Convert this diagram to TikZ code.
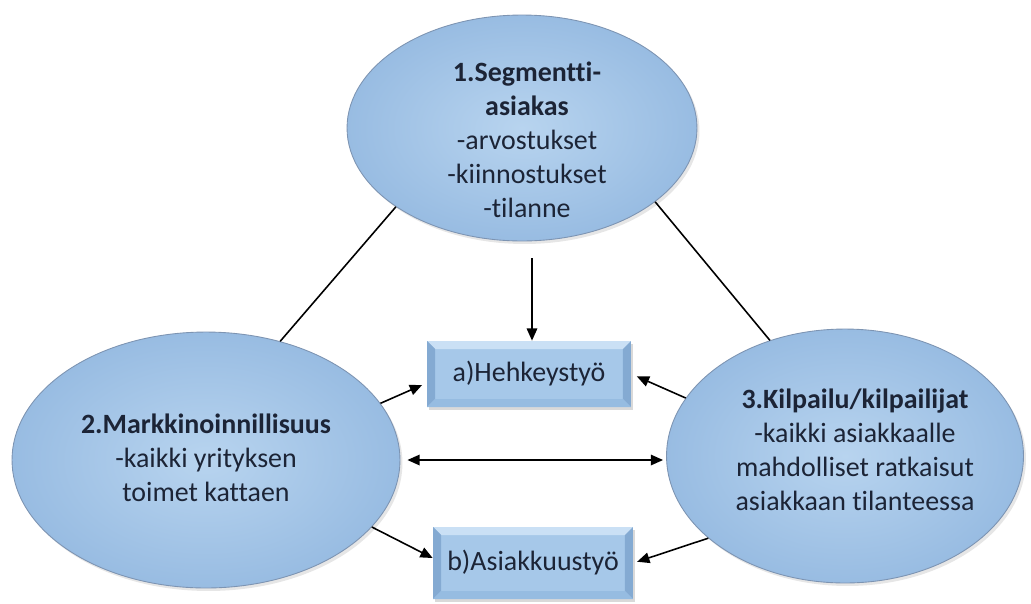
\documentclass[tikz,border=0pt]{standalone}
\usepackage{fontspec}
\setmainfont{Carlito}[Ligatures={NoCommon,TeX}]
\usetikzlibrary{shapes.geometric,arrows.meta,shadows}

\definecolor{ellin}{RGB}{184,212,239}
\definecolor{ellout}{RGB}{152,188,226}
\definecolor{ellrim}{RGB}{125,148,178}
\definecolor{boxface}{RGB}{166,200,233}
\definecolor{boxtop}{RGB}{202,224,245}
\definecolor{boxside}{RGB}{132,170,210}
\definecolor{boxlow}{RGB}{150,188,225}
\definecolor{txtdark}{RGB}{28,36,54}

\tikzset{
  oval/.style={ellipse, inner sep=0pt, draw=ellrim, line width=0.5pt,
    inner color=ellin, outer color=ellout,
    drop shadow={opacity=0.2, shadow xshift=0.05cm, shadow yshift=-0.06cm}},
  ovaltext/.style={align=center, text=txtdark,
    font=\fontsize{15.9}{19.3}\selectfont},
  bevelbox/.style={fill=boxface, inner sep=0pt, text=txtdark,
    font=\fontsize{15.9}{19.3}\selectfont,
    drop shadow={opacity=0.3, shadow xshift=0.04cm, shadow yshift=-0.06cm},
    path picture={
      \fill[boxtop] (path picture bounding box.north west) -- (path picture bounding box.north east)
        -- ([shift={(-8,8)}]path picture bounding box.north east) -- ([shift={(8,8)}]path picture bounding box.north west) -- cycle;
      \fill[boxside] (path picture bounding box.north west) -- (path picture bounding box.south west)
        -- ([shift={(8,-8)}]path picture bounding box.south west) -- ([shift={(8,8)}]path picture bounding box.north west) -- cycle;
      \fill[boxside] (path picture bounding box.north east) -- (path picture bounding box.south east)
        -- ([shift={(-8,-8)}]path picture bounding box.south east) -- ([shift={(-8,8)}]path picture bounding box.north east) -- cycle;
      \fill[boxlow] (path picture bounding box.south west) -- (path picture bounding box.south east)
        -- ([shift={(-8,-8)}]path picture bounding box.south east) -- ([shift={(8,-8)}]path picture bounding box.south west) -- cycle;
    }},
  arr/.style={-{Triangle[length=7pt,width=6pt]}, line width=0.9pt},
  dblarr/.style={{Triangle[length=7pt,width=6pt]}-{Triangle[length=7pt,width=6pt]}, line width=0.9pt},
  link/.style={line width=0.9pt}
}

\begin{document}
\begin{tikzpicture}[x=0.02cm,y=-0.02cm]
  \useasboundingbox (0,0) rectangle (1031,603);

  % the three ovals
  \node[oval, minimum width=7cm, minimum height=4.52cm] (seg) at (522,128) {};
  \node[oval, minimum width=7.76cm, minimum height=5.12cm] (mark) at (206,460) {};
  \node[oval, minimum width=7.14cm, minimum height=5.08cm] (kil) at (845,456) {};

  \node[ovaltext] (segtext) at (527,140) {\textbf{1.Segmentti-}\\\textbf{asiakas}\\-arvostukset\\-kiinnostukset\\-tilanne};
  \node[ovaltext] (marktext) at (206,458) {\textbf{2.Markkinoinnillisuus}\\-kaikki yrityksen\\toimet kattaen};
  \node[ovaltext] (kiltext) at (855,450) {\textbf{3.Kilpailu/kilpailijat}\\-kaikki asiakkaalle\\mahdolliset ratkaisut\\asiakkaan tilanteessa};

  % the two boxes
  \node[bevelbox, minimum width=4.08cm, minimum height=1.32cm] (boxa) at (529,374) {a)Hehkeystyö};
  \node[bevelbox, minimum width=4.0cm, minimum height=1.44cm] (boxb) at (533,563) {b)Asiakkuustyö};

  \draw[link] (seg.212) -- (mark.58);
  \draw[link] (seg.331) -- (kil.123);

  \coordinate (segfoot) at (532,258);
  \draw[arr] (segfoot) -- (segfoot |- boxa.north);
  \draw[arr, shorten >=0.1cm] (mark.18) -- ([yshift=-0.18cm]boxa.west);
  \draw[arr, shorten >=0.12cm] (kil.160) -- (boxa.east);
  \draw[arr] (mark.338) -- ([yshift=0.1cm]boxb.west);
  \draw[arr, shorten >=0.08cm] (kil.211) -- (boxb.east);
  \draw[dblarr, shorten <=0.14cm, shorten >=0.06cm] (mark.east) -- (mark.east -| kil.west);
\end{tikzpicture}
\end{document}
